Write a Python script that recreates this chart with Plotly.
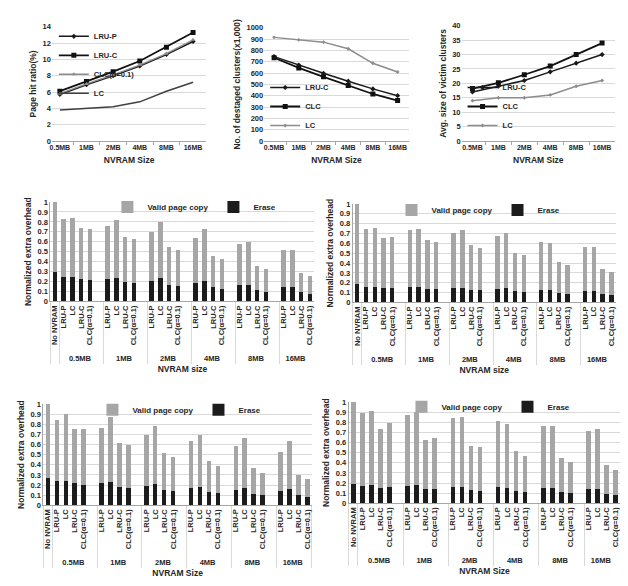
import plotly.graph_objects as go

W, H = 628, 586

# ---------------- data ----------------
sizes = ["0.5MB", "1MB", "2MB", "4MB", "8MB", "16MB"]

# (a) page hit ratio (%)
hit_lru_p = [5.7, 6.9, 8.0, 9.2, 10.6, 12.2]
hit_lru_c = [6.1, 7.3, 8.5, 9.8, 11.5, 13.3]
hit_clc = [5.8, 7.0, 8.1, 9.3, 10.7, 12.4]
hit_lc = [3.8, 4.0, 4.2, 4.8, 6.1, 7.2]

# (b) number of destaged clusters (x1,000)
dest_lru_c = [745, 670, 598, 528, 460, 400]
dest_clc = [735, 645, 567, 490, 415, 357]
dest_lc = [915, 893, 873, 814, 686, 609]

# (c) average size of victim clusters
vic_lru_c = [17.0, 19.0, 21.0, 24.0, 27.0, 30.0]
vic_clc = [18.2, 20.2, 23.0, 26.0, 30.0, 34.0]
vic_lc = [14.0, 15.0, 15.0, 16.0, 19.0, 21.0]

# bar charts: policies per NVRAM size
policies = ["LRU-P", "LC", "LRU-C", "CLC(α=0.1)"]
baseline = "No NVRAM"

# order: No NVRAM, then 0.5MB(LRU-P, LC, LRU-C, CLC), 1MB(...), ... 16MB(...)
b1_erase = [0.30, 0.25, 0.245, 0.23, 0.22, 0.23, 0.24, 0.20, 0.19, 0.21, 0.235, 0.17, 0.16,
            0.19, 0.21, 0.145, 0.13, 0.17, 0.17, 0.115, 0.10, 0.15, 0.145, 0.095, 0.075]
b1_valid = [0.70, 0.58, 0.595, 0.51, 0.505, 0.53, 0.58, 0.445, 0.435, 0.49, 0.565, 0.38, 0.36,
            0.45, 0.52, 0.31, 0.30, 0.41, 0.425, 0.245, 0.23, 0.37, 0.375, 0.195, 0.18]

b2_erase = [0.19, 0.155, 0.155, 0.145, 0.145, 0.155, 0.155, 0.135, 0.135, 0.15, 0.15, 0.13, 0.125,
            0.14, 0.145, 0.12, 0.11, 0.13, 0.125, 0.10, 0.09, 0.12, 0.115, 0.085, 0.075]
b2_valid = [0.81, 0.595, 0.605, 0.51, 0.515, 0.58, 0.59, 0.495, 0.475, 0.56, 0.59, 0.455, 0.425,
            0.53, 0.565, 0.385, 0.37, 0.485, 0.48, 0.31, 0.295, 0.445, 0.45, 0.255, 0.23]

b3_erase = [0.27, 0.235, 0.24, 0.215, 0.205, 0.215, 0.23, 0.18, 0.17, 0.19, 0.21, 0.155, 0.14,
            0.17, 0.18, 0.13, 0.12, 0.155, 0.175, 0.115, 0.10, 0.145, 0.165, 0.10, 0.085]
b3_valid = [0.73, 0.605, 0.66, 0.535, 0.545, 0.55, 0.64, 0.435, 0.42, 0.505, 0.57, 0.36, 0.335,
            0.465, 0.515, 0.305, 0.27, 0.43, 0.49, 0.25, 0.215, 0.385, 0.465, 0.20, 0.17]

b4_erase = [0.195, 0.175, 0.18, 0.155, 0.16, 0.17, 0.18, 0.14, 0.14, 0.165, 0.165, 0.13, 0.125,
            0.16, 0.155, 0.12, 0.11, 0.15, 0.15, 0.11, 0.10, 0.14, 0.145, 0.095, 0.085]
b4_valid = [0.805, 0.72, 0.73, 0.575, 0.63, 0.70, 0.72, 0.485, 0.505, 0.68, 0.69, 0.44, 0.43,
            0.655, 0.63, 0.40, 0.36, 0.615, 0.615, 0.34, 0.305, 0.575, 0.59, 0.285, 0.245]

# ---------------- styling ----------------
FONT = "Liberation Sans, Arial, sans-serif"
TXT = "#262626"
GRID = "#d9d9d9"
AXL = "#a6a6a6"
GREY_BAR = "#a6a6a6"
DARK_BAR = "#1c1c1c"


def fnt(size):
    return dict(family=FONT, size=size, color=TXT, weight="bold")


def dx(a, b):
    return [a / W, b / W]


def dy(top, bottom):
    return [1 - bottom / H, 1 - top / H]


# multicategory slots (blank slot after each size group except the last)
outer, inner = [" "], [baseline]
for i, s in enumerate(sizes):
    for p in policies:
        outer.append(s)
        inner.append(p)
    if i < len(sizes) - 1:
        outer.append(s)
        inner.append(" ")


def spread(vals):
    out, k = [], 0
    for lab in inner:
        if lab == " ":
            out.append(None)
        else:
            out.append(vals[k])
            k += 1
    return out


fig = go.Figure()

# ---- line panels ----
def line(x, y, name, color, symbol, msize, width, xa, ya, leg):
    fig.add_trace(go.Scatter(
        x=x, y=y, name=name, mode="lines+markers",
        line=dict(color=color, width=width),
        marker=dict(symbol=symbol, size=msize, color=color),
        xaxis=xa, yaxis=ya, legend=leg))

line(sizes, hit_lru_p, "LRU-P", "#1a1a1a", "diamond", 4, 1.5, "x", "y", "legend")
line(sizes, hit_lru_c, "LRU-C", "#111111", "square", 5, 1.8, "x", "y", "legend")
line(sizes, hit_clc, "CLC(α=0.1)", "#8c8c8c", "triangle-up", 4, 1.5, "x", "y", "legend")
line(sizes, hit_lc, "LC", "#404040", "line-ew", 4, 1.5, "x", "y", "legend")

line(sizes, dest_lru_c, "LRU-C", "#1a1a1a", "diamond", 4, 1.5, "x2", "y2", "legend2")
line(sizes, dest_clc, "CLC", "#111111", "square", 5, 1.8, "x2", "y2", "legend2")
line(sizes, dest_lc, "LC", "#8c8c8c", "diamond", 3, 1.5, "x2", "y2", "legend2")

line(sizes, vic_lru_c, "LRU-C", "#1a1a1a", "diamond", 4, 1.5, "x3", "y3", "legend3")
line(sizes, vic_clc, "CLC", "#111111", "square", 5, 1.8, "x3", "y3", "legend3")
line(sizes, vic_lc, "LC", "#8c8c8c", "diamond", 3, 1.5, "x3", "y3", "legend3")

# ---- bar panels ----
bar_sets = [(b1_erase, b1_valid, "x4", "y4", "legend4"),
            (b2_erase, b2_valid, "x5", "y5", "legend5"),
            (b3_erase, b3_valid, "x6", "y6", "legend6"),
            (b4_erase, b4_valid, "x7", "y7", "legend7")]
for er, va, xa, ya, leg in bar_sets:
    fig.add_trace(go.Bar(x=[outer, inner], y=spread(er), name="Erase",
                         marker=dict(color=DARK_BAR, line=dict(width=0)),
                         xaxis=xa, yaxis=ya, legend=leg))
    fig.add_trace(go.Bar(x=[outer, inner], y=spread(va), name="Valid page copy",
                         marker=dict(color=GREY_BAR, line=dict(width=0)),
                         xaxis=xa, yaxis=ya, legend=leg))

layout = dict(
    width=W, height=H, margin=dict(l=0, r=0, t=0, b=0),
    paper_bgcolor="white", plot_bgcolor="white",
    font=fnt(8), barmode="stack", bargap=0.5, showlegend=True,
)

# line-panel axes
line_axes = [
    ("", dx(42, 197), dy(15, 131), [-0.3, 5.5], [0, 14], 2, "Page hit ratio(%)"),
    ("2", dx(255, 400), dy(16, 131), [-0.4, 5.45], [0, 1000], 100, "No. of destaged clusters(x1,000)"),
    ("3", dx(453, 607), dy(14, 131), [-0.42, 5.5], [0, 40], 5, "Avg. size of victim clusters"),
]
for n, xd, yd, xr, yr, dt, yt in line_axes:
    layout["xaxis" + n] = dict(
        domain=xd, anchor="y" + n, type="category", range=xr, tickangle=0,
        showline=True, linecolor=AXL, linewidth=1, ticks="outside", ticklen=3,
        tickcolor=AXL, tickson="boundaries", showgrid=False, tickfont=fnt(7),
        title=dict(text="NVRAM Size", font=fnt(8.5), standoff=6))
    layout["yaxis" + n] = dict(
        domain=yd, anchor="x" + n, range=yr, dtick=dt, showgrid=True, gridcolor=GRID,
        gridwidth=1, zeroline=False, showline=False, tickfont=fnt(7.5),
        title=dict(text=yt, font=fnt(8.5), standoff=4))

bar_axes = [
    ("4", dx(40.6, 305.4), dy(193, 294), "NVRAM size"),
    ("5", dx(343.9, 607.7), dy(195, 295), "NVRAM size"),
    ("6", dx(33.5, 302.8), dy(398, 501), "NVRAM Size"),
    ("7", dx(339.8, 612.2), dy(396, 499), "NVRAM Size"),
]
for n, xd, yd, xt in bar_axes:
    layout["xaxis" + n] = dict(
        domain=xd, anchor="y" + n, type="multicategory", tickangle=-90,
        tickmode="linear", tick0=0, dtick=1,
        showline=True, linecolor=AXL, linewidth=1, ticks="", showgrid=False,
        showdividers=True, dividercolor=GRID, dividerwidth=1, tickfont=fnt(7.5),
        title=dict(text=xt, font=fnt(8.5), standoff=3))
    layout["yaxis" + n] = dict(
        domain=yd, anchor="x" + n, range=[0, 1], dtick=0.1, showgrid=True,
        gridcolor=GRID, gridwidth=1, zeroline=False, showline=True, linecolor=AXL,
        tickfont=fnt(7.5), title=dict(text="Normalized extra overhead", font=fnt(8.5), standoff=4))

vleg = dict(bgcolor="rgba(0,0,0,0)", font=fnt(7.5), itemwidth=30, tracegroupgap=0)
layout["legend"] = dict(vleg, x=44 / W, y=1 - 10 / H, xanchor="left", yanchor="top")
layout["legend2"] = dict(vleg, x=256 / W, y=1 - 130 / H, xanchor="left", yanchor="bottom")
layout["legend3"] = dict(vleg, x=454 / W, y=1 - 130 / H, xanchor="left", yanchor="bottom")

hleg = dict(bgcolor="rgba(0,0,0,0)", font=fnt(8), orientation="h", traceorder="reversed",
            itemwidth=30, xanchor="center", yanchor="middle")
layout["legend4"] = dict(hleg, x=185 / W, y=1 - 198 / H)
layout["legend5"] = dict(hleg, x=470 / W, y=1 - 201 / H)
layout["legend6"] = dict(hleg, x=170 / W, y=1 - 404 / H)
layout["legend7"] = dict(hleg, x=480 / W, y=1 - 401 / H)

fig.update_layout(**layout)
fig.write_html("out.html")
